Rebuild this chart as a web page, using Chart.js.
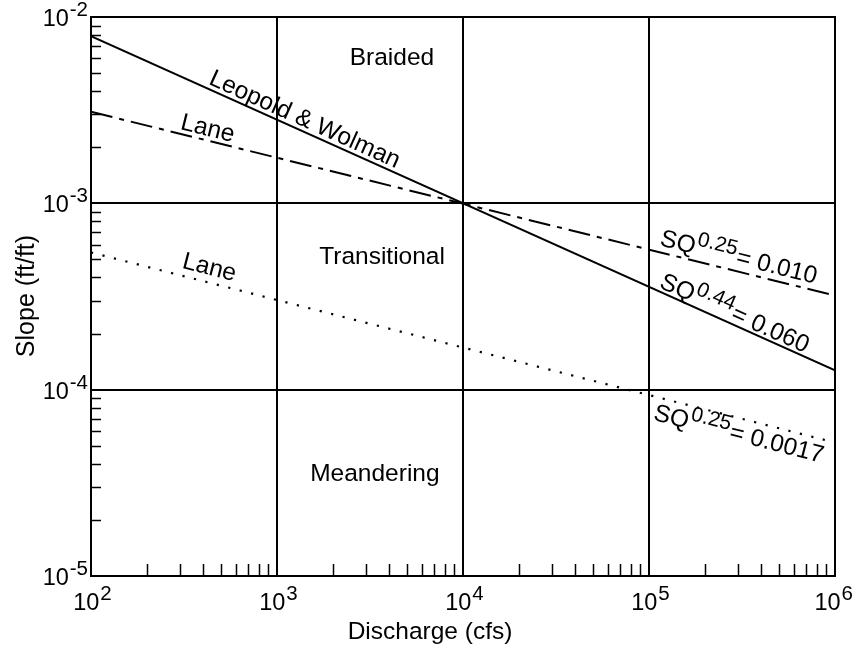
<!DOCTYPE html>
<html>
<head>
<meta charset="utf-8">
<script src="https://cdn.jsdelivr.net/npm/chart.js@4.4.1/dist/chart.umd.min.js"></script>
<style>
  html, body { margin: 0; padding: 0; background: #fff; }
</style>
</head>
<body>
<canvas id="chart" width="855" height="645"></canvas>
<script>
// Discharge (cfs) at the two ends of each line
const discharge = [1e2, 1e6];
// Slope (ft/ft)
const slopeLeopoldWolman = [7.9e-3, 1.27e-4];
const slopeLaneBraided = [3.1e-3, 3.2e-4];
const slopeLaneMeander = [5.45e-4, 5.2e-5];

// axis ticks (decades) and their exponent labels
const xTickValues = [1e2, 1e3, 1e4, 1e5, 1e6];
const xTickExponents = ['2', '3', '4', '5', '6'];
const yTickValues = [1e-5, 1e-4, 1e-3, 1e-2];
const yTickExponents = ['-5', '-4', '-3', '-2'];

const regionLabels = ['Braided', 'Transitional', 'Meandering'];
const regionAt = [[4150, 6.0e-3], [3670, 5.15e-4], [3360, 3.5e-5]];

const FONT = '"Liberation Sans", Arial, Helvetica, sans-serif';

// labels along the lines: text parts, dataset index, centre in data coords
const lineLabels = [
  { parts: [['Leopold & Wolman']], ds: 0, at: [1420, 2.86e-3] },
  { parts: [['Lane']], ds: 1, at: [426, 2.56e-3] },
  { parts: [['Lane']], ds: 2, at: [435, 4.6e-4] },
  { parts: [['SQ'], ['0.25', 1], ['= 0.010']], ds: 1, at: [3.05e5, 5.2e-4] },
  { parts: [['SQ'], ['0.44', 1], ['= 0.060']], ds: 0, at: [2.9e5, 2.6e-4] },
  { parts: [['SQ'], ['0.25', 1], ['= 0.0017']], ds: 2, at: [3.05e5, 5.85e-5] }
];

const toPoints = ys => discharge.map((q, i) => ({ x: q, y: ys[i] }));

// draws "base + superscript" text, x is left edge, y is baseline
function drawParts(ctx, parts, x, y, size, supSize, raise) {
  let cx = x;
  parts.forEach(p => {
    ctx.font = (p[1] ? supSize : size) + 'px ' + FONT;
    ctx.fillText(p[0], cx, p[1] ? y - raise : y);
    cx += ctx.measureText(p[0]).width + 1;
  });
}
function partsWidth(ctx, parts, size, supSize) {
  let w = 0;
  parts.forEach(p => {
    ctx.font = (p[1] ? supSize : size) + 'px ' + FONT;
    w += ctx.measureText(p[0]).width + 1;
  });
  return w - 1;
}

const decorations = {
  id: 'decorations',
  beforeDatasetsDraw(chart) {
    const { ctx, chartArea: a, scales: { x, y } } = chart;
    ctx.save();
    ctx.strokeStyle = '#000';
    ctx.lineWidth = 2;
    ctx.beginPath();
    xTickValues.forEach(v => {
      const p = Math.round(x.getPixelForValue(v));
      ctx.moveTo(p, a.top); ctx.lineTo(p, a.bottom);
    });
    yTickValues.forEach(v => {
      const p = Math.round(y.getPixelForValue(v));
      ctx.moveTo(a.left, p); ctx.lineTo(a.right, p);
    });
    ctx.stroke();

    // minor ticks inside the plot
    ctx.lineWidth = 1.5;
    ctx.beginPath();
    for (let k = 2; k < 6; k++) {
      for (let m = 2; m <= 9; m++) {
        const p = Math.round(x.getPixelForValue(m * Math.pow(10, k))) + 0.5;
        ctx.moveTo(p, a.bottom); ctx.lineTo(p, a.bottom - 12);
      }
    }
    for (let k = -5; k < -2; k++) {
      for (let m = 2; m <= 9; m++) {
        const p = Math.round(y.getPixelForValue(m * Math.pow(10, k))) + 0.5;
        ctx.moveTo(a.left, p); ctx.lineTo(a.left + 10, p);
      }
    }
    ctx.stroke();
    ctx.restore();
  },
  afterDatasetsDraw(chart) {
    const { ctx, chartArea: a, scales: { x, y } } = chart;
    ctx.save();
    ctx.strokeStyle = '#000';
    ctx.lineWidth = 2;
    ctx.strokeRect(a.left, a.top, a.right - a.left, a.bottom - a.top);

    ctx.fillStyle = '#000';
    ctx.textAlign = 'left';
    ctx.textBaseline = 'alphabetic';

    // x tick labels (last one kept inside the canvas)
    xTickValues.forEach((v, i) => {
      const parts = [['10'], [xTickExponents[i], 1]];
      const w = partsWidth(ctx, parts, 23.5, 20.5);
      const left = Math.min(x.getPixelForValue(v) - w / 2 + 1.5, chart.width - 2 - w);
      drawParts(ctx, parts, left, a.bottom + 34, 23.5, 20.5, 10);
    });
    // y tick labels
    yTickValues.forEach((v, i) => {
      const parts = [['10'], [yTickExponents[i], 1]];
      const w = partsWidth(ctx, parts, 23.5, 20.5);
      drawParts(ctx, parts, a.left - 3 - w, y.getPixelForValue(v) + 9, 23.5, 20.5, 10);
    });

    // axis titles
    ctx.font = '24.5px ' + FONT;
    ctx.textAlign = 'center';
    ctx.fillText('Discharge (cfs)', (a.left + a.right) / 2 - 33, 639);
    ctx.save();
    ctx.translate(34, 296);
    ctx.rotate(-Math.PI / 2);
    ctx.font = '25px ' + FONT;
    ctx.fillText('Slope (ft/ft)', 0, 0);
    ctx.restore();

    // region names
    ctx.font = '24.5px ' + FONT;
    ctx.textBaseline = 'middle';
    regionLabels.forEach((t, i) => {
      ctx.fillText(t, x.getPixelForValue(regionAt[i][0]), y.getPixelForValue(regionAt[i][1]));
    });

    // labels along the lines
    ctx.textAlign = 'left';
    ctx.textBaseline = 'alphabetic';
    lineLabels.forEach(l => {
      const pts = chart.getDatasetMeta(l.ds).data;
      const ang = Math.atan2(pts[1].y - pts[0].y, pts[1].x - pts[0].x);
      const cx = x.getPixelForValue(l.at[0]);
      const cy = y.getPixelForValue(l.at[1]);
      const w = partsWidth(ctx, l.parts, 24.5, 21);
      ctx.save();
      ctx.translate(cx, cy);
      ctx.rotate(ang);
      drawParts(ctx, l.parts, -w / 2, 8.5, 24.5, 21, 9);
      ctx.restore();
    });
    ctx.restore();
  }
};

new Chart(document.getElementById('chart'), {
  type: 'scatter',
  data: {
    datasets: [
      { label: 'Leopold & Wolman', data: toPoints(slopeLeopoldWolman), borderColor: '#000', borderWidth: 2 },
      { label: 'Lane (braided)', data: toPoints(slopeLaneBraided), borderColor: '#000', borderWidth: 2, borderDash: [22, 7, 5, 7] },
      { label: 'Lane (meandering)', data: toPoints(slopeLaneMeander), borderColor: '#000', borderWidth: 2.2, borderDash: [2.2, 9.6] }
    ]
  },
  options: {
    responsive: false,
    devicePixelRatio: 1,
    animation: false,
    showLine: true,
    elements: { point: { radius: 0, hoverRadius: 0 }, line: { tension: 0 } },
    layout: { padding: { left: 91, right: 20, top: 17, bottom: 69 } },
    plugins: { legend: { display: false }, tooltip: { enabled: false } },
    scales: {
      x: { type: 'logarithmic', min: 1e2, max: 1e6, display: false },
      y: { type: 'logarithmic', min: 1e-5, max: 1e-2, display: false }
    }
  },
  plugins: [decorations]
});
</script>
</body>
</html>
